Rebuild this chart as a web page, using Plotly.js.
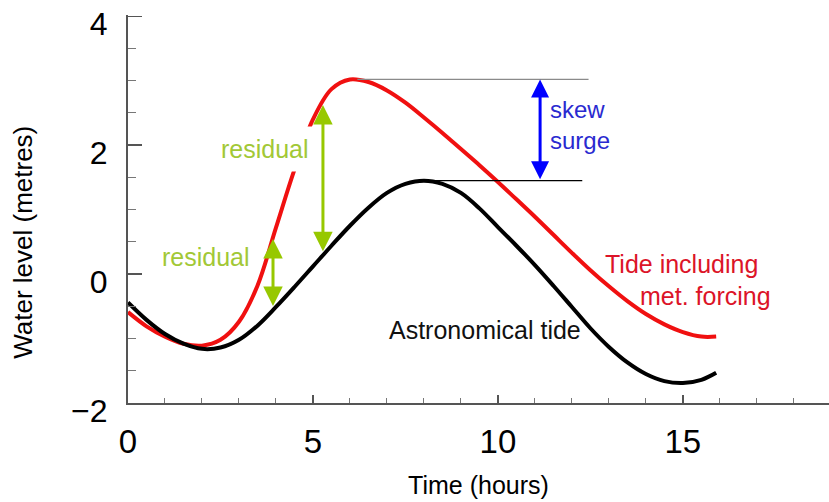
<!DOCTYPE html>
<html>
<head>
<meta charset="utf-8">
<script src="https://cdn.plot.ly/plotly-3.0.1.min.js"></script>
<style>html,body{margin:0;padding:0;background:#fff;}#chart{width:829px;height:502px;}</style>
</head>
<body>
<div id="chart"></div>
<script>
// ---- data ----
var timeHours = [0, 0.5, 1, 1.5, 2, 2.5, 3, 3.5, 4, 4.5, 5, 5.5, 6, 6.5, 7, 7.5, 8, 8.5, 9, 9.5, 10, 10.5, 11, 11.5, 12, 12.5, 13, 13.5, 14, 14.5, 15, 15.5, 15.9];
var astronomicalTide = [-0.44, -0.71, -0.93, -1.08, -1.16, -1.14, -1.02, -0.80, -0.51, -0.20, 0.12, 0.44, 0.75, 1.03, 1.26, 1.40, 1.45, 1.40, 1.26, 1.02, 0.73, 0.44, 0.14, -0.18, -0.51, -0.84, -1.13, -1.37, -1.55, -1.66, -1.69, -1.64, -1.53];
var tideWithMet = [-0.59, -0.81, -0.97, -1.08, -1.11, -1.02, -0.74, -0.18, 0.72, 1.62, 2.40, 2.87, 3.02, 2.98, 2.85, 2.66, 2.43, 2.19, 1.94, 1.69, 1.43, 1.16, 0.89, 0.61, 0.33, 0.06, -0.19, -0.42, -0.62, -0.78, -0.90, -0.97, -0.97];
var residualTimes = [3.92, 5.27];
var skewSurgeTime = 11.14;
var xTickVals = [0, 5, 10, 15];
var yTickVals = [-2, 0, 2, 4];

function interp(xs, ys, x) {
  for (var i = 0; i < xs.length - 1; i++) {
    if (x >= xs[i] && x <= xs[i + 1]) {
      var f = (x - xs[i]) / (xs[i + 1] - xs[i]);
      return ys[i] + f * (ys[i + 1] - ys[i]);
    }
  }
  return ys[ys.length - 1];
}
function argmax(ys) { var k = 0; for (var i = 1; i < ys.length; i++) if (ys[i] > ys[k]) k = i; return k; }

var redMaxI = argmax(tideWithMet), blackMaxI = argmax(astronomicalTide);
var redMax = tideWithMet[redMaxI], blackMax = astronomicalTide[blackMaxI];

var FONT = 'Liberation Sans, Arial, sans-serif';
var green = '#97c800', greenText = '#a2c836';

var traces = [
  {x: timeHours, y: tideWithMet, mode: 'lines', line: {color: '#f01010', width: 4, shape: 'spline', smoothing: 1}, hoverinfo: 'skip'},
  {x: timeHours, y: astronomicalTide, mode: 'lines', line: {color: '#000000', width: 4, shape: 'spline', smoothing: 1}, hoverinfo: 'skip'}
];

var annotations = [];
residualTimes.forEach(function (t) {
  annotations.push({
    x: t, y: interp(timeHours, tideWithMet, t) - 0.03, ax: t, ay: interp(timeHours, astronomicalTide, t) + 0.04,
    xref: 'x', yref: 'y', axref: 'x', ayref: 'y', text: '', showarrow: true,
    arrowside: 'end+start', arrowhead: 2, startarrowhead: 2, arrowsize: 1.3, startarrowsize: 1.3,
    arrowwidth: 3, arrowcolor: green, standoff: 0, startstandoff: 0
  });
});
annotations.push({
  x: skewSurgeTime, y: redMax, ax: skewSurgeTime, ay: blackMax,
  xref: 'x', yref: 'y', axref: 'x', ayref: 'y', text: '', showarrow: true,
  arrowside: 'end+start', arrowhead: 2, startarrowhead: 2, arrowsize: 1.2, startarrowsize: 1.2,
  arrowwidth: 3, arrowcolor: '#0000ff', standoff: 0, startstandoff: 0
});
annotations.push({x: 3.70, y: 1.94, xref: 'x', yref: 'y', text: 'residual', showarrow: false,
  font: {family: FONT, size: 25, color: greenText}, bgcolor: '#ffffff', borderpad: 8});
annotations.push({x: 2.11, y: 0.27, xref: 'x', yref: 'y', text: 'residual', showarrow: false,
  font: {family: FONT, size: 25, color: greenText}});
annotations.push({x: 11.35, y: 2.32, xref: 'x', yref: 'y', text: 'skew<br>surge', showarrow: false,
  xanchor: 'left', align: 'left', font: {family: FONT, size: 24, color: '#2a2ad0'}});
annotations.push({x: 14.97, y: 0.16, xref: 'x', yref: 'y', text: 'Tide including', showarrow: false,
  font: {family: FONT, size: 25, color: '#dc1428'}});
annotations.push({x: 15.62, y: -0.34, xref: 'x', yref: 'y', text: 'met. forcing', showarrow: false,
  font: {family: FONT, size: 25, color: '#dc1428'}});
annotations.push({x: 9.65, y: -0.87, xref: 'x', yref: 'y', text: 'Astronomical tide', showarrow: false,
  font: {family: FONT, size: 25, color: '#111111'}});
// y-axis title (placed as in the reference, below the plot centre)
annotations.push({x: -0.150, y: 0.415, xref: 'paper', yref: 'paper', xanchor: 'center', yanchor: 'middle',
  text: 'Water level (metres)', showarrow: false,
  textangle: -90, font: {family: FONT, size: 26, color: '#000'}});

var shapes = [
  {type: 'line', xref: 'x', yref: 'y', x0: timeHours[redMaxI] + 0.2, x1: 12.45, y0: redMax, y1: redMax, line: {color: '#8a8a8a', width: 1.2}},
  {type: 'line', xref: 'x', yref: 'y', x0: timeHours[blackMaxI] - 0.1, x1: 12.28, y0: blackMax, y1: blackMax, line: {color: '#000000', width: 1.2}}
];

var layout = {
  width: 829, height: 502,
  margin: {l: 128, r: 0, t: 15, b: 99},
  paper_bgcolor: '#ffffff', plot_bgcolor: '#ffffff',
  showlegend: false,
  font: {family: FONT, color: '#000'},
  xaxis: {
    range: [0, 18.95], showgrid: false, zeroline: false, showline: true, linecolor: '#555', linewidth: 2,
    tickvals: xTickVals, ticks: 'inside', ticklen: 8, tickwidth: 1.5, tickcolor: '#555',
    minor: {dtick: 1, tick0: 0, ticks: 'inside', ticklen: 5, tickwidth: 1, tickcolor: '#777'},
    tickfont: {family: FONT, size: 33, color: '#000'}, ticklabelstandoff: 8, ticklabeloverflow: 'allow',
    title: {text: 'Time (hours)', font: {family: FONT, size: 25, color: '#000'}, standoff: 18},
    fixedrange: true
  },
  yaxis: {
    range: [-2, 4.02], showgrid: false, zeroline: false, showline: true, linecolor: '#555', linewidth: 2,
    tickvals: yTickVals, ticks: 'inside', ticklen: 14, tickwidth: 1.5, tickcolor: '#555',
    minor: {dtick: 0.5, tick0: 0, ticks: 'inside', ticklen: 8, tickwidth: 1, tickcolor: '#777'},
    tickfont: {family: FONT, size: 32, color: '#000'}, ticklabelstandoff: 12, ticklabeloverflow: 'allow',
    ticklabelshift: 8,
    fixedrange: true
  },
  annotations: annotations,
  shapes: shapes
};

Plotly.newPlot('chart', traces, layout, {displayModeBar: false, staticPlot: true});
</script>
</body>
</html>
